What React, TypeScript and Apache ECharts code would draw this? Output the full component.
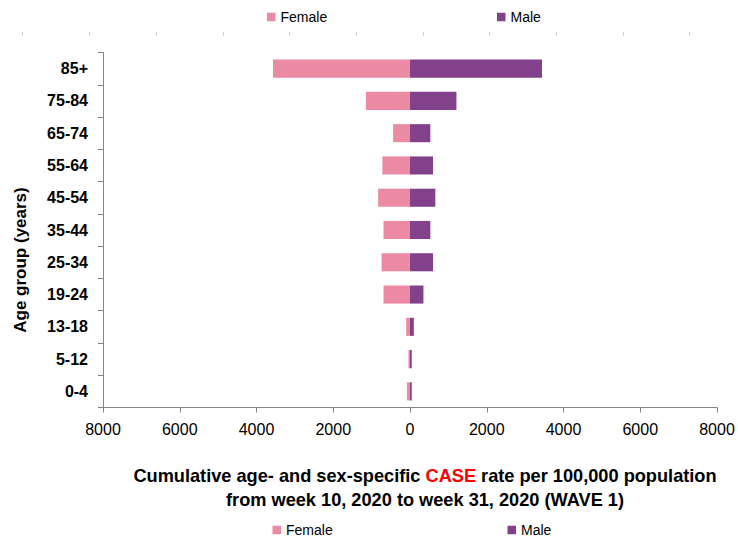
import React, { useEffect, useRef } from "react";
import * as echarts from "echarts";

const ageGroups = ["0-4", "5-12", "13-18", "19-24", "25-34", "35-44", "45-54", "55-64", "65-74", "75-84", "85+"];
const femaleRates = [80, 40, 100, 690, 740, 690, 830, 720, 440, 1150, 3570];
const maleRates = [45, 45, 100, 350, 600, 530, 660, 600, 530, 1210, 3440];
const xTicks = { min: -8000, max: 8000, interval: 2000 };
const topTickSlots = ["a", "b", "c", "d", "e", "f", "g", "h", "i", "j"];

const FEMALE = "#EB8AA2";
const MALE = "#83418B";
const FONT = "Liberation Sans";

export default function App() {
  const ref = useRef<HTMLDivElement>(null);
  useEffect(() => {
    if (!ref.current) return;
    const chart = echarts.init(ref.current, undefined, { renderer: "svg" });
    const legendBase = {
      orient: "horizontal",
      padding: 0,
      icon: "rect",
      itemWidth: 8.5,
      itemHeight: 8.5,
      textStyle: { fontFamily: FONT, fontSize: 14, color: "#000" },
      selectedMode: false,
    };
    chart.setOption({
      animation: false,
      backgroundColor: "#fff",
      textStyle: { fontFamily: FONT },
      title: {
        left: 420,
        textAlign: "center",
        top: 459,
        text: "Cumulative age- and sex-specific {r|CASE} rate per 100,000 population\nfrom week 10, 2020 to week 31, 2020 (WAVE 1)",
        textStyle: {
          fontFamily: FONT,
          fontSize: 18.2,
          fontWeight: "bold",
          color: "#000",
          lineHeight: 24,
          rich: {
            r: { fontFamily: FONT, fontSize: 18.2, fontWeight: "bold", color: "#FF0000", lineHeight: 24 },
          },
        },
      },
      legend: [
        { ...legendBase, data: ["Female"], left: 267, top: 10 },
        { ...legendBase, data: ["Male"], left: 497, top: 10 },
        { ...legendBase, data: ["Female"], left: 272.5, top: 523 },
        { ...legendBase, data: ["Male"], left: 507.5, top: 523 },
      ],
      graphic: [
        {
          type: "text",
          x: 20,
          y: 260,
          rotation: Math.PI / 2,
          style: {
            text: "Age group (years)",
            align: "center",
            verticalAlign: "middle",
            fontFamily: FONT,
            fontSize: 17,
            fontWeight: "bold",
            fill: "#000",
          },
        },
      ],
      grid: [
        { left: 103, right: 21, top: 52.5, bottom: 133.5 },
        { left: 22.7, right: 48.3, top: 31, height: 1 },
      ],
      xAxis: [
        {
          type: "value",
          gridIndex: 0,
          min: xTicks.min,
          max: xTicks.max,
          interval: xTicks.interval,
          axisLine: { show: true, onZero: false, lineStyle: { color: "#868686", width: 1 } },
          axisTick: { show: true, length: 5, lineStyle: { color: "#868686" } },
          splitLine: { show: false },
          axisLabel: {
            margin: 14,
            fontFamily: FONT,
            fontSize: 16,
            color: "#000",
            formatter: (v: number) => String(Math.abs(v)),
          },
        },
        {
          type: "category",
          gridIndex: 1,
          data: topTickSlots,
          position: "bottom",
          axisLine: { show: false },
          axisTick: { show: true, length: 4, lineStyle: { color: "#D0D0D0" } },
          axisLabel: { show: false },
        },
      ],
      yAxis: [
        {
          type: "category",
          gridIndex: 0,
          data: ageGroups,
          position: "left",
          axisLine: { show: false },
          axisTick: { show: false },
          axisLabel: {
            margin: 15,
            fontFamily: FONT,
            fontSize: 16,
            fontWeight: "bold",
            color: "#000",
          },
        },
        {
          type: "category",
          gridIndex: 0,
          data: ageGroups,
          position: "left",
          z: 10,
          axisLine: { show: true, onZero: true, lineStyle: { color: "#868686", width: 1 } },
          axisTick: { show: true, length: 5, lineStyle: { color: "#868686" } },
          axisLabel: { show: false },
        },
        { type: "value", gridIndex: 1, show: false },
      ],
      series: [
        {
          name: "Female",
          type: "bar",
          xAxisIndex: 0,
          yAxisIndex: 0,
          stack: "pyr",
          barWidth: "56%",
          itemStyle: { color: FEMALE },
          data: femaleRates.map((v) => -v),
        },
        {
          name: "Male",
          type: "bar",
          xAxisIndex: 0,
          yAxisIndex: 0,
          stack: "pyr",
          barWidth: "56%",
          itemStyle: { color: MALE },
          data: maleRates,
        },
        {
          type: "line",
          xAxisIndex: 1,
          yAxisIndex: 2,
          data: [],
          silent: true,
        },
      ],
    });
    return () => chart.dispose();
  }, []);
  return (
    <div
      ref={ref}
      style={{ position: "absolute", left: 0, top: 0, width: 738, height: 541 }}
    />
  );
}
